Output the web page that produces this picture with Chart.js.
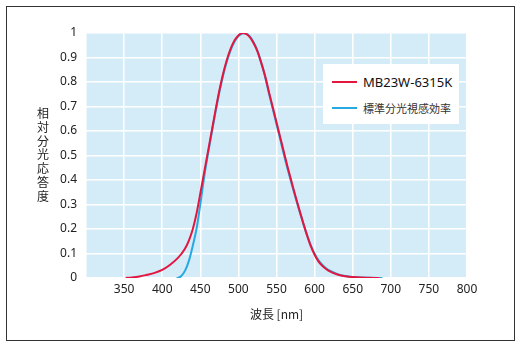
<!DOCTYPE html>
<html>
<head>
<meta charset="utf-8">
<script src="https://cdn.jsdelivr.net/npm/chart.js@4.4.1/dist/chart.umd.min.js"></script>
<style>
  html, body { margin: 0; padding: 0; background: #fff; }
  #wrap { position: relative; width: 524px; height: 350px; }
  #frame { position: absolute; left: 6px; top: 6px; width: 507px; height: 333px; border: 1px solid #333; pointer-events: none; }
  #ytitle { position: absolute; left: 37px; top: 106px; width: 13px; font: 12px "Noto Sans CJK JP"; line-height: 13.8px; color: #222; word-break: break-all; }
  #legend { position: absolute; left: 323px; top: 64px; width: 136px; height: 60px; background: #fff; }
  .item { position: absolute; left: 9px; height: 16px; display: flex; align-items: center; }
  .swatch { width: 25px; height: 2px; margin-right: 6px; }
</style>
</head>
<body>
<div id="wrap">
  <canvas id="spectrum_chart" width="524" height="350"></canvas>
  <div id="ytitle">相対分光応答度</div>
  <div id="legend">
    <div class="item" style="top:10px"><div class="swatch" style="background:#e3163f"></div><span style="font:13px 'Noto Sans';color:#111">MB23W-6315K</span></div>
    <div class="item" style="top:36px"><div class="swatch" style="background:#27a9e1"></div><span style="font:11px 'Noto Sans CJK JP';color:#333">標準分光視感効率</span></div>
  </div>
  <div id="frame"></div>
</div>
<script>
// wavelengths (nm) and relative response
const sensor_label = "MB23W-6315K"
const sensor_wl = [352, 360, 370, 380, 390, 400, 410, 420, 425, 430, 435, 440, 445, 450, 455, 460, 465, 470, 475, 480, 485, 490, 495, 500, 505, 510, 515, 520, 525, 530, 535, 540, 545, 550, 555, 560, 565, 570, 575, 580, 585, 590, 595, 600, 605, 610, 615, 620, 630, 640, 650, 660, 670, 685]
const sensor_val = [0, 0.002, 0.006, 0.013, 0.021, 0.033, 0.053, 0.08, 0.098, 0.12, 0.153, 0.198, 0.262, 0.345, 0.43, 0.515, 0.6, 0.685, 0.765, 0.835, 0.892, 0.937, 0.97, 0.99, 1.0, 0.996, 0.983, 0.958, 0.925, 0.878, 0.825, 0.76, 0.698, 0.636, 0.573, 0.51, 0.448, 0.39, 0.333, 0.278, 0.225, 0.175, 0.13, 0.095, 0.068, 0.05, 0.037, 0.027, 0.014, 0.007, 0.004, 0.002, 0.001, 0]

const eye_label = "標準分光視感効率"
const eye_wl = [419, 422, 425, 430, 435, 440, 445, 450, 455, 460, 465, 470, 475, 480, 485, 490, 495, 500, 505, 508, 510, 515, 520, 525, 530, 535, 540, 545, 550, 555, 560, 565, 570, 575, 580, 585, 590, 595, 600, 605, 610, 615, 620, 630, 640, 650, 660, 670, 689]
const eye_val = [0, 0.002, 0.008, 0.03, 0.07, 0.13, 0.2, 0.3, 0.41, 0.505, 0.593, 0.678, 0.758, 0.828, 0.886, 0.931, 0.965, 0.987, 0.998, 1.0, 0.998, 0.986, 0.962, 0.927, 0.878, 0.822, 0.755, 0.692, 0.628, 0.565, 0.5, 0.44, 0.383, 0.328, 0.275, 0.224, 0.176, 0.133, 0.099, 0.073, 0.054, 0.04, 0.03, 0.016, 0.008, 0.004, 0.002, 0.001, 0]

const x_min = 300, x_max = 800, x_step = 50
const y_min = 0, y_max = 1, y_step = 0.1

function to_points(wl, val) {
  return wl.map((w, i) => ({ x: w, y: val[i] }))
}

// paint the light blue plot background
const plot_bg = {
  id: 'plot_bg',
  beforeDraw(chart) {
    const a = chart.chartArea
    const ctx = chart.ctx
    ctx.save()
    ctx.fillStyle = '#d4ebf8'
    ctx.fillRect(a.left, a.top, a.right - a.left, a.bottom - a.top)
    ctx.restore()
  }
}

const config = {
  type: 'line',
  data: {
    datasets: [
      { label: sensor_label, data: to_points(sensor_wl, sensor_val), borderColor: '#e3163f', borderWidth: 2, pointRadius: 0, cubicInterpolationMode: 'monotone', fill: false },
      { label: eye_label, data: to_points(eye_wl, eye_val), borderColor: '#27a9e1', borderWidth: 2, pointRadius: 0, cubicInterpolationMode: 'monotone', fill: false }
    ]
  },
  options: {
    responsive: false,
    animation: false,
    layout: { padding: { left: 0, top: 33, right: 57, bottom: 28 } },
    plugins: { legend: { display: false }, tooltip: { enabled: false } },
    scales: {
      x: {
        type: 'linear', min: x_min, max: x_max,
        ticks: { stepSize: x_step, padding: 4, color: '#222', font: { family: 'Noto Sans', size: 12 },
          callback: v => v === x_min ? '' : String(v) },
        grid: { color: '#ffffff', lineWidth: 1.5, drawTicks: false },
        border: { display: false },
        title: { display: true, text: '波長 [nm]', color: '#222', padding: 0, font: { family: 'Noto Sans CJK JP', size: 12 } },
        afterFit: s => { s.height = 44 }
      },
      y: {
        min: y_min, max: y_max,
        ticks: { stepSize: y_step, padding: 9, color: '#222', font: { family: 'Noto Sans', size: 12 },
          callback: v => (v === 0 || v === 1) ? String(v) : v.toFixed(1) },
        grid: { color: '#ffffff', lineWidth: 1.5, drawTicks: false },
        border: { display: false },
        afterFit: s => { s.width = 86 }
      }
    }
  },
  plugins: [plot_bg]
}

const spectrum_chart = new Chart(document.getElementById('spectrum_chart'), config)
</script>
</body>
</html>
